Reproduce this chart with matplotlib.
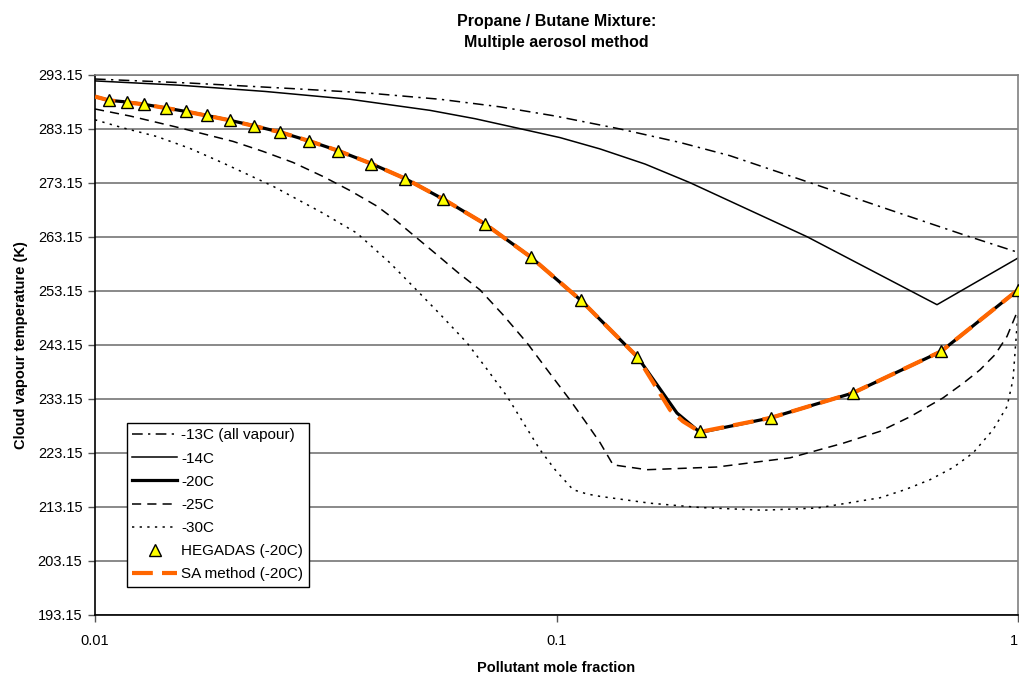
import matplotlib
matplotlib.use("Agg")
import matplotlib.pyplot as plt
from matplotlib.ticker import FixedLocator, FixedFormatter

plt.rcParams['font.family'] = ['Liberation Sans', 'DejaVu Sans']

# -13C (all vapour)
x_13 = [0.01, 0.01606, 0.02646, 0.03846, 0.05593, 0.07545, 0.0993, 0.1373,
        0.1852, 0.2376, 0.3543, 0.5281, 0.7753, 1.0]
t_13 = [292.35, 291.6, 290.6, 289.8, 288.6, 287.2, 285.5, 283.1,
        280.6, 278.15, 273.15, 268.1, 263.3, 260.25]

# -14C
x_14 = [0.01, 0.01528, 0.02336, 0.03569, 0.05319, 0.06661, 0.0834, 0.1018,
        0.1243, 0.1556, 0.1947, 0.349, 0.6676, 1.0]
t_14 = [292.0, 291.2, 290.05, 288.6, 286.55, 285.0, 283.15, 281.5,
        279.4, 276.6, 273.15, 263.15, 250.56, 259.2]

# -20C
x_20 = [0.01, 0.01072, 0.01171, 0.01279, 0.01425, 0.01572, 0.01748, 0.01961,
        0.02208, 0.02521, 0.02905, 0.03357, 0.03963, 0.04703, 0.05685, 0.07002,
        0.0879, 0.1130, 0.1497, 0.1824, 0.2047, 0.2911, 0.4384, 0.681, 1.0]
t_20 = [289.1, 288.4, 288.1, 287.65, 286.98, 286.35, 285.6, 284.7,
        283.7, 282.5, 280.9, 279.1, 276.7, 273.9, 270.1, 265.5,
        259.4, 251.35, 240.9, 230.5, 226.9, 229.6, 234.2, 241.9, 253.3]

# -25C
x_25 = [0.01, 0.01191, 0.01528, 0.01991, 0.02312, 0.02686, 0.0312, 0.03569,
        0.04084, 0.04467, 0.04888, 0.05509, 0.06118, 0.06828, 0.07655, 0.0863,
        0.09585, 0.107, 0.1153, 0.1243, 0.1326, 0.1571, 0.2227, 0.3206,
        0.4177, 0.5022, 0.5834, 0.6879, 0.7604, 0.8274, 0.8916, 0.9467, 1.0]
t_25 = [286.8, 285.5, 283.3, 280.8, 278.95, 276.9, 274.3, 271.7,
        268.8, 266.3, 263.5, 259.8, 256.5, 253.3, 248.7, 243.5,
        238.3, 232.9, 229.0, 225.0, 220.9, 220.0, 220.5, 222.2,
        224.9, 227.1, 229.8, 233.3, 236.0, 238.5, 241.3, 244.7, 249.6]

# -30C
x_30 = [0.01, 0.0115, 0.01362, 0.01606, 0.01894, 0.0243, 0.0312, 0.03696,
        0.04357, 0.04888, 0.05593, 0.06398, 0.07071, 0.07811, 0.0846, 0.0921,
        0.0993, 0.1086, 0.1165, 0.1243, 0.1594, 0.2047, 0.2802, 0.3669,
        0.5022, 0.5689, 0.6447, 0.7232, 0.799, 0.8829, 0.9467, 0.9754, 1.0]
t_30 = [284.8, 283.3, 281.7, 279.5, 276.8, 272.5, 267.5, 263.8,
        258.3, 253.95, 248.8, 243.5, 238.6, 233.6, 228.8, 223.7,
        220.0, 216.3, 215.5, 215.06, 213.8, 213.0, 212.5, 212.9,
        214.8, 216.3, 218.15, 220.4, 223.1, 227.4, 231.7, 236.7, 249.1]

# HEGADAS (-20C)
x_heg = [0.01072, 0.01171, 0.01279, 0.01425, 0.01572, 0.01748, 0.01961, 0.02208,
         0.02521, 0.02905, 0.03357, 0.03963, 0.04703, 0.05685, 0.07002, 0.0879,
         0.1130, 0.1497, 0.2047, 0.2911, 0.4384, 0.681, 1.0]
t_heg = [288.4, 288.1, 287.65, 286.98, 286.35, 285.6, 284.7, 283.7,
         282.5, 280.9, 279.1, 276.7, 273.9, 270.1, 265.5, 259.4,
         251.35, 240.9, 227.1, 229.6, 234.2, 241.9, 253.3]

# SA method (-20C)
x_sa = [0.01, 0.01072, 0.01279, 0.01572, 0.01961, 0.02521, 0.02905, 0.03357,
        0.03963, 0.04703, 0.05685, 0.07002, 0.0879, 0.1130, 0.1497, 0.1762,
        0.188, 0.2047, 0.2911, 0.4384, 0.681, 1.0]
t_sa = [289.1, 288.4, 287.65, 286.35, 284.7, 282.5, 280.9, 279.1,
        276.7, 273.9, 270.1, 265.5, 259.4, 251.35, 240.9, 231.1,
        228.95, 227.0, 229.6, 234.2, 241.9, 253.3]

yticks = [193.15, 203.15, 213.15, 223.15, 233.15, 243.15, 253.15, 263.15, 273.15, 283.15, 293.15]
xticks = [0.01, 0.1, 1]
xtick_labels = ["0.01", "0.1", "1"]

fig = plt.figure(figsize=(10.19, 6.78), dpi=100)
ax = fig.add_axes([95 / 1019, 1 - 614.7 / 678, 923 / 1019, 540 / 678])

ax.plot(x_13, t_13, color='black', lw=1.1, dashes=(7, 3.5, 1.5, 3.5), label='-13C (all vapour)')
ax.plot(x_14, t_14, color='black', lw=1.1, label='-14C')
ax.plot(x_20, t_20, color='black', lw=2.3, label='-20C')
ax.plot(x_25, t_25, color='black', lw=1.1, dashes=(6, 4), label='-25C')
ax.plot(x_30, t_30, color='black', lw=1.1, dashes=(1.5, 3.5), label='-30C')
ax.plot(x_heg, t_heg, ls='none', marker='^', ms=9, mfc='#FFFF00', mec='black', mew=1,
        zorder=5, label='HEGADAS (-20C)')
ax.plot(x_sa, t_sa, color='#FF6600', lw=3, dashes=(5, 2.2), zorder=4, label='SA method (-20C)')

ax.set_xscale('log')
ax.set_xlim(0.01, 1)
ax.set_ylim(193.15, 293.15)
ax.xaxis.set_major_locator(FixedLocator(xticks))
ax.xaxis.set_major_formatter(FixedFormatter(xtick_labels))
ax.xaxis.set_minor_locator(FixedLocator([]))
ax.set_yticks(yticks)
ax.set_yticklabels([f"{v:.2f}" for v in yticks])
ax.tick_params(axis='both', labelsize=10.5, length=5, width=1, color='#555555', pad=4)
ax.tick_params(axis='x', pad=9)
ax.get_xticklabels()[-1].set_horizontalalignment('right')
ax.yaxis.grid(True, color='#808080', lw=1.3)
ax.set_axisbelow(True)

ax.spines['left'].set_color('black')
ax.spines['bottom'].set_color('black')
ax.spines['top'].set_color('#808080')
ax.spines['right'].set_color('#808080')
for s in ax.spines.values():
    s.set_linewidth(1.2)

ax.set_xlabel('Pollutant mole fraction', fontweight='bold', fontsize=10.5, labelpad=9)
ax.set_ylabel('Cloud vapour temperature (K)', fontweight='bold', fontsize=10.5, labelpad=7)
ax.set_title('Propane / Butane Mixture:\nMultiple aerosol method', fontweight='bold',
             fontsize=11.5, pad=20, linespacing=1.5)

leg = ax.legend(loc='upper left', bbox_to_anchor=(32 / 923, (614.7 - 423) / 540),
                borderaxespad=0, fontsize=11, handlelength=2.9, handletextpad=0.3,
                borderpad=0.35, labelspacing=0.6, fancybox=False, framealpha=1)
leg.get_frame().set_edgecolor('black')
leg.get_frame().set_linewidth(1)

fig.savefig('out.png', dpi=100)
